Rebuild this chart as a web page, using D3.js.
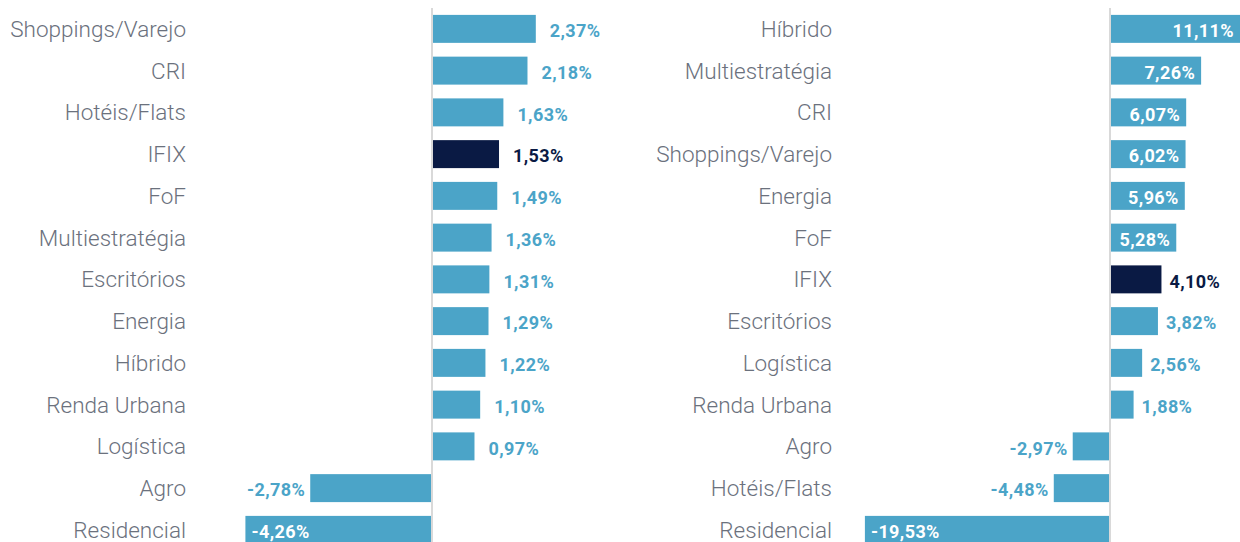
<!DOCTYPE html>
<html>
<head>
<meta charset="utf-8">
<script src="https://cdn.jsdelivr.net/npm/d3@7"></script>
<style>
  body { margin: 0; background: #fff; }
  svg { display: block; }
  .cat { font-family: Roboto, sans-serif; font-weight: 300; font-size: 22.5px; fill: #6b717d; }
  .val { font-family: Roboto, sans-serif; font-weight: 700; font-size: 18px; letter-spacing: 0.4px; }
</style>
</head>
<body>
<svg width="1240" height="542"></svg>
<script>
var svg = d3.select("svg"),
    width = +svg.attr("width"),
    height = +svg.attr("height");

// left chart
var leftCategories = ["Shoppings/Varejo", "CRI", "Hotéis/Flats", "IFIX", "FoF", "Multiestratégia",
    "Escritórios", "Energia", "Híbrido", "Renda Urbana", "Logística", "Agro", "Residencial"];
var leftValues = [2.37, 2.18, 1.63, 1.53, 1.49, 1.36, 1.31, 1.29, 1.22, 1.10, 0.97, -2.78, -4.26];

// right chart
var rightCategories = ["Híbrido", "Multiestratégia", "CRI", "Shoppings/Varejo", "Energia", "FoF",
    "IFIX", "Escritórios", "Logística", "Renda Urbana", "Agro", "Hotéis/Flats", "Residencial"];
var rightValues = [11.11, 7.26, 6.07, 6.02, 5.96, 5.28, 4.10, 3.82, 2.56, 1.88, -2.97, -4.48, -19.53];

var highlight = "IFIX";
var barColor = "#4ba4c8",
    highlightColor = "#0a1a44",
    axisColor = "#d9d9d9";

var fmt = v => d3.format(".2f")(v).replace(".", ",").replace("\u2212", "-") + "%";

var panels = [
    { cats: leftCategories, vals: leftValues, labelX: 186, left: 200, right: 620,
      domain: [-5, 4], range: [213, 607.2], gapPos: 14, labelLeft: 200, labelRight: 620 },
    { cats: rightCategories, vals: rightValues, labelX: 832, left: 845, right: width,
      domain: [-20, 10], range: [859, 1235.5], gapPos: 8, labelLeft: 845, labelRight: 1228 }
];

panels.forEach(drawPanel);

function drawPanel(p) {
    var data = p.cats.map((c, i) => ({ name: c, value: p.vals[i] }));

    var x = d3.scaleLinear().domain(p.domain).range(p.range);
    var y = d3.scaleBand()
        .domain(p.cats)
        .range([8, 8 + 13 * 41.75])
        .paddingInner(0.33)
        .paddingOuter(0.165);

    var g = svg.append("g");

    g.selectAll("rect.bar")
        .data(data)
        .enter().append("rect")
        .attr("class", "bar")
        .attr("x", d => Math.max(p.left, Math.min(x(0), x(d.value))))
        .attr("width", d => Math.min(p.right, Math.max(x(0), x(d.value))) - Math.max(p.left, Math.min(x(0), x(d.value))))
        .attr("y", d => y(d.name))
        .attr("height", y.bandwidth())
        .attr("fill", d => d.name == highlight ? highlightColor : barColor);

    g.append("line")
        .attr("x1", x(0)).attr("x2", x(0))
        .attr("y1", 8).attr("y2", height)
        .attr("stroke", axisColor)
        .attr("stroke-width", 2);

    g.selectAll("text.cat")
        .data(data)
        .enter().append("text")
        .attr("class", "cat")
        .attr("x", p.labelX)
        .attr("y", d => y(d.name) + y.bandwidth() / 2)
        .attr("dy", "0.35em")
        .attr("text-anchor", "end")
        .text(d => d.name);

    // value labels: outside the bar end unless they would leave the panel
    g.selectAll("text.val")
        .data(data)
        .enter().append("text")
        .attr("class", "val")
        .attr("y", d => y(d.name) + y.bandwidth() / 2 + 2)
        .attr("dy", "0.35em")
        .text(d => fmt(d.value))
        .each(function(d) {
            var t = d3.select(this),
                w = this.getComputedTextLength(),
                end = Math.max(p.left, Math.min(p.right, x(d.value))),
                pos = d.value >= 0;
            var inside = pos ? end + p.gapPos + w > p.labelRight : end - 5 - w < p.labelLeft;
            if (inside) {
                t.attr("x", pos ? end - 6 : end + 6)
                 .attr("text-anchor", pos ? "end" : "start")
                 .attr("fill", "#fff");
            } else {
                t.attr("x", pos ? end + p.gapPos : end - 5)
                 .attr("text-anchor", pos ? "start" : "end")
                 .attr("fill", d.name == highlight ? highlightColor : barColor);
            }
        });
}
</script>
</body>
</html>
